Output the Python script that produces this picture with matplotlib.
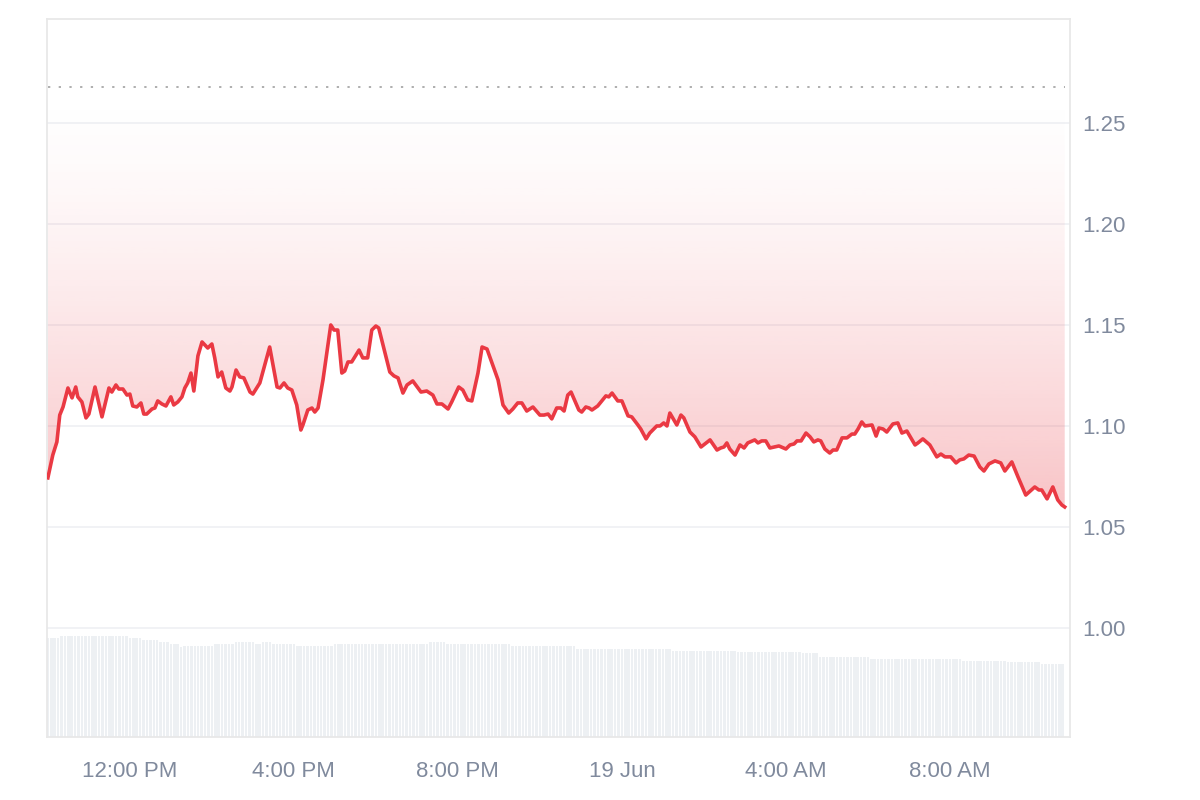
import numpy as np
import pandas as pd
import matplotlib.pyplot as plt
import matplotlib.dates as mdates

plt.rcParams['font.family'] = ['Liberation Sans', 'DejaVu Sans']

# price, hours after 18 Jun 00:00
hours = [10.00, 10.12, 10.22, 10.29, 10.37, 10.49, 10.59, 10.68, 10.73, 10.83, 10.93, 11.00,
         11.15, 11.32, 11.49, 11.56, 11.66, 11.73, 11.83, 11.93, 12.00, 12.07, 12.17, 12.27,
         12.34, 12.41, 12.54, 12.61, 12.68, 12.78, 12.88, 13.00, 13.07, 13.17, 13.27, 13.34,
         13.41, 13.49, 13.56, 13.66, 13.76, 13.90, 14.00, 14.07, 14.15, 14.24, 14.34, 14.44,
         14.49, 14.59, 14.68, 14.78, 14.93, 15.00, 15.17, 15.29, 15.41, 15.59, 15.66, 15.76,
         15.85, 15.95, 16.07, 16.17, 16.22, 16.34, 16.44, 16.51, 16.59, 16.71, 16.90, 16.98,
         17.07, 17.17, 17.24, 17.32, 17.41, 17.59, 17.68, 17.80, 17.90, 18.00, 18.07, 18.34,
         18.44, 18.54, 18.66, 18.76, 18.90, 19.10, 19.24, 19.39, 19.49, 19.61, 19.76, 19.85,
         20.02, 20.12, 20.24, 20.34, 20.49, 20.59, 20.71, 20.98, 21.10, 21.24, 21.34, 21.46,
         21.56, 21.68, 21.83, 22.00, 22.10, 22.20, 22.29, 22.41, 22.51, 22.59, 22.68, 22.76,
         22.95, 23.02, 23.12, 23.20, 23.27, 23.41, 23.61, 23.68, 23.76, 23.90, 24.00, 24.15,
         24.24, 24.39, 24.46, 24.59, 24.68, 24.85, 24.93, 25.02, 25.10, 25.17, 25.34, 25.44,
         25.51, 25.66, 25.78, 25.93, 26.15, 26.32, 26.41, 26.49, 26.56, 26.63, 26.76, 26.88,
         26.98, 27.07, 27.24, 27.32, 27.41, 27.51, 27.61, 27.83, 28.00, 28.10, 28.20, 28.27,
         28.37, 28.49, 28.59, 28.68, 28.78, 28.85, 28.95, 29.07, 29.15, 29.24, 29.37, 29.49,
         29.61, 29.68, 29.76, 29.85, 29.93, 30.10, 30.20, 30.27, 30.37, 30.46, 30.61, 30.73,
         30.83, 30.95, 31.15, 31.22, 31.34, 31.51, 31.68, 31.78, 31.88, 32.02, 32.15, 32.24,
         32.34, 32.46, 32.59, 32.73, 32.83, 32.95, 33.10, 33.24, 33.34, 33.51, 33.66, 33.85,
         34.07, 34.17, 34.24, 34.37, 34.51, 34.63, 34.73, 34.80]
price = [1.0743, 1.0856, 1.0921, 1.1054, 1.1094, 1.1188, 1.1139, 1.1193, 1.1144, 1.1119, 1.1040, 1.1059,
         1.1193, 1.1045, 1.1188, 1.1168, 1.1203, 1.1183, 1.1183, 1.1153, 1.1158, 1.1099, 1.1094, 1.1114,
         1.1059, 1.1059, 1.1084, 1.1089, 1.1124, 1.1109, 1.1099, 1.1144, 1.1104, 1.1119, 1.1144, 1.1188,
         1.1213, 1.1262, 1.1173, 1.1347, 1.1416, 1.1386, 1.1406, 1.1337, 1.1243, 1.1267, 1.1188, 1.1173,
         1.1193, 1.1277, 1.1243, 1.1238, 1.1168, 1.1158, 1.1213, 1.1302, 1.1391, 1.1193, 1.1188, 1.1213,
         1.1188, 1.1178, 1.1104, 1.0980, 1.1005, 1.1079, 1.1089, 1.1069, 1.1089, 1.1228, 1.1500, 1.1475,
         1.1475, 1.1262, 1.1272, 1.1317, 1.1317, 1.1376, 1.1337, 1.1337, 1.1475, 1.1495, 1.1485, 1.1267,
         1.1248, 1.1238, 1.1163, 1.1203, 1.1223, 1.1168, 1.1173, 1.1153, 1.1109, 1.1109, 1.1084, 1.1119,
         1.1193, 1.1178, 1.1129, 1.1124, 1.1262, 1.1391, 1.1381, 1.1228, 1.1104, 1.1064, 1.1084, 1.1114,
         1.1114, 1.1074, 1.1094, 1.1054, 1.1054, 1.1059, 1.1035, 1.1089, 1.1089, 1.1074, 1.1153, 1.1168,
         1.1079, 1.1069, 1.1094, 1.1089, 1.1079, 1.1099, 1.1149, 1.1144, 1.1163, 1.1124, 1.1124, 1.1050,
         1.1045, 1.1005, 1.0985, 1.0936, 1.0965, 1.1000, 1.1000, 1.1015, 1.1000, 1.1064, 1.1005, 1.1054,
         1.1040, 1.0970, 1.0946, 1.0896, 1.0931, 1.0881, 1.0891, 1.0896, 1.0916, 1.0886, 1.0856, 1.0906,
         1.0891, 1.0916, 1.0931, 1.0916, 1.0926, 1.0926, 1.0891, 1.0901, 1.0886, 1.0906, 1.0911, 1.0926,
         1.0926, 1.0965, 1.0946, 1.0921, 1.0931, 1.0926, 1.0886, 1.0866, 1.0881, 1.0881, 1.0941, 1.0941,
         1.0960, 1.0960, 1.0985, 1.1020, 1.1000, 1.1005, 1.0950, 1.0990, 1.0985, 1.0970, 1.1010, 1.1015,
         1.0965, 1.0975, 1.0906, 1.0916, 1.0936, 1.0906, 1.0847, 1.0861, 1.0847, 1.0847, 1.0817, 1.0832,
         1.0837, 1.0856, 1.0851, 1.0797, 1.0777, 1.0812, 1.0827, 1.0817, 1.0777, 1.0822, 1.0748, 1.0658,
         1.0698, 1.0683, 1.0683, 1.0639, 1.0698, 1.0634, 1.0609, 1.0599]

# volume (M), level changes: start hour -> level
vol_start = [9.98, 10.29, 11.95, 12.29, 12.68, 12.98, 13.17, 13.29, 14.02, 14.56, 15.05, 15.22,
             15.46, 16.05, 16.95, 19.32, 19.68, 21.27, 22.85, 25.22, 26.83, 28.34, 28.83, 30.05,
             32.29, 33.39, 34.24]
vol_level = [24.8, 25.3, 24.8, 24.3, 23.8, 23.3, 22.5, 22.8, 23.3, 23.8, 23.3, 23.8,
             23.3, 22.8, 23.3, 23.8, 23.3, 22.8, 22.0, 21.5, 21.3, 21.0, 20.0, 19.5,
             19.0, 18.8, 18.3]

ref_level = 1.268
yticks = [1.00, 1.05, 1.10, 1.15, 1.20, 1.25]
xtick_hours = [12, 16, 20, 24, 28, 32]
xtick_labels = ['12:00 PM', '4:00 PM', '8:00 PM', '19 Jun', '4:00 AM', '8:00 AM']

base = pd.Timestamp('2024-06-18')
t = base + pd.to_timedelta(hours, unit='h')
tn = mdates.date2num(t.to_pydatetime())

# 5 minute volume bars
bar_h = np.arange(10.0, 34.81, 5 / 60)
idx = np.searchsorted(vol_start, bar_h, side='right') - 1
bar_v = np.array(vol_level)[idx]
bar_t = mdates.date2num((base + pd.to_timedelta(bar_h, unit='h')).to_pydatetime())

red = '#ea3943'
grey = '#808a9d'

fig = plt.figure(figsize=(12, 8), dpi=100)
ax = fig.add_axes([0.0392, 0.07875, 0.8525, 0.8975])
ax2 = ax.twinx()

ax2.bar(bar_t, bar_v, width=(5 / 60 / 24) * 0.75, color='#edf0f3', linewidth=0)
ax2.set_ylim(0, 179.5)
ax2.set_yticks([])
for s in ax2.spines.values():
    s.set_visible(False)

ax.set_zorder(ax2.get_zorder() + 1)
ax.patch.set_visible(False)

# gradient area above the line
poly = ax.fill_between(tn, price, ref_level, facecolor='none', edgecolor='none')
clip = poly.get_paths()[0]
n = 256
frac = np.linspace(1, 0, n) ** 1.5
grad = np.zeros((n, 1, 4))
grad[..., 0], grad[..., 1], grad[..., 2] = 234 / 255, 57 / 255, 67 / 255
grad[:, 0, 3] = 0.30 * frac
im = ax.imshow(grad, extent=[tn[0], tn[-1], min(price), ref_level], origin='lower',
               aspect='auto', zorder=1, interpolation='bilinear')
im.set_clip_path(clip, transform=ax.transData)

ax.plot(tn, price, color=red, linewidth=2.6, zorder=3, solid_joinstyle='round')
ax.plot([tn[0], tn[-1]], [ref_level, ref_level], color='#999999', linewidth=1.1,
        linestyle=(0, (1.5, 5.5)), zorder=2)

x0 = mdates.date2num(base + pd.Timedelta(hours=9.98))
x1 = mdates.date2num(base + pd.Timedelta(hours=34.93))
ax.set_xlim(x0, x1)
ax2.set_xlim(x0, x1)
ax.set_ylim(0.946, 1.3015)

ax.yaxis.tick_right()
ax.set_yticks(yticks)
ax.set_yticklabels([f'{v:.2f}' for v in yticks])
xt = mdates.date2num((base + pd.to_timedelta(xtick_hours, unit='h')).to_pydatetime())
ax.set_xticks(xt)
ax.set_xticklabels(xtick_labels)
ax.tick_params(axis='both', length=0, labelsize=16, colors=grey)
ax.tick_params(axis='x', pad=17)
ax.tick_params(axis='y', pad=9)

ax.grid(axis='y', color='#eff0f3', linewidth=1.2, zorder=0)
ax.set_axisbelow(True)
for s in ax.spines.values():
    s.set_color('#e8e8e8')
    s.set_linewidth(1.3)

fig.savefig('out.png', dpi=100)
